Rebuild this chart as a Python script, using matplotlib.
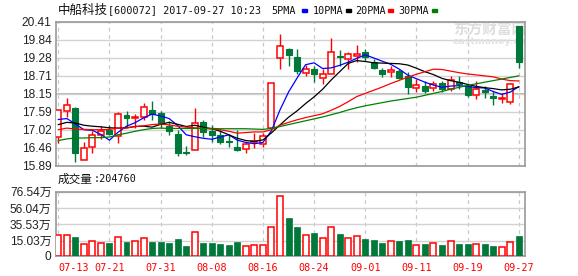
import matplotlib
matplotlib.use('Agg')
import matplotlib.pyplot as plt
import numpy as np
from matplotlib.patches import Rectangle

# ---------------- data ----------------
tick_idx = [0, 6, 12, 18, 24, 30, 36, 42, 48, 54]
tick_labels = ['07-13', '07-21', '07-31', '08-08', '08-16',
               '08-24', '09-01', '09-11', '09-19', '09-27']

opens = [16.79, 17.61, 17.71, 16.07, 16.47, 16.86, 17.02, 16.83, 17.48, 17.38,
         17.42, 17.63, 17.53, 17.15, 16.89, 16.31, 16.39, 17.27, 16.99, 16.86,
         16.66, 16.49, 16.41, 16.62, 16.57, 17.07, 19.26, 19.55, 19.29, 18.79,
         18.92, 18.63, 18.78, 19.32, 19.24, 19.34, 19.45, 19.16, 18.90, 18.82,
         18.87, 18.69, 18.32, 18.39, 18.34, 18.50, 18.31, 18.53, 18.39, 18.10,
         18.26, 18.08, 17.98, 17.90, 20.29]
highs = [17.65, 18.03, 17.74, 16.63, 16.97, 17.13, 17.17, 17.58, 17.62, 17.50,
         17.86, 17.92, 17.60, 17.28, 17.02, 16.52, 17.69, 17.32, 17.18, 17.02,
         16.89, 17.02, 16.60, 16.91, 16.91, 18.50, 20.03, 19.58, 19.55, 19.05,
         19.03, 18.92, 19.90, 19.53, 19.45, 19.69, 19.55, 19.24, 18.97, 19.03,
         18.92, 18.82, 18.60, 18.55, 18.55, 18.55, 18.69, 18.69, 18.45, 18.55,
         18.39, 18.23, 18.16, 18.48, 20.29]
lows = [16.60, 17.42, 16.02, 16.07, 16.28, 16.73, 16.86, 16.60, 17.09, 17.07,
        17.34, 17.34, 17.07, 16.84, 16.18, 16.23, 16.39, 16.79, 16.62, 16.58,
        16.49, 16.35, 16.28, 16.44, 16.49, 17.07, 18.94, 19.03, 18.76, 18.69,
        18.52, 18.45, 18.78, 19.01, 18.94, 19.13, 19.18, 18.92, 18.66, 18.66,
        18.60, 18.13, 18.20, 18.16, 18.23, 18.20, 18.23, 18.29, 18.06, 17.97,
        18.02, 17.81, 17.86, 17.83, 18.97]
closes = [17.65, 17.80, 16.28, 16.44, 16.85, 16.99, 16.90, 17.52, 17.38, 17.41,
          17.74, 17.50, 17.21, 16.99, 16.30, 16.29, 17.22, 16.94, 16.86, 16.62,
          16.64, 16.39, 16.58, 16.68, 16.81, 18.50, 19.64, 19.37, 18.87, 18.92,
          18.78, 18.76, 19.45, 19.30, 19.40, 19.41, 19.29, 18.97, 18.78, 18.90,
          18.64, 18.36, 18.42, 18.23, 18.45, 18.29, 18.57, 18.47, 18.10, 18.29,
          18.21, 18.03, 18.01, 18.45, 19.16]
# volume in 万 (10k shares)
volumes = [21.7, 21.7, 19.6, 10.4, 14.2, 12.1, 12.1, 19.2, 13.8, 14.2,
           18.0, 13.8, 13.8, 12.1, 17.1, 8.3, 25.5, 12.1, 12.1, 10.8,
           9.6, 13.8, 7.9, 9.2, 9.2, 31.8, 70.7, 43.5, 32.2, 21.7,
           24.7, 18.0, 31.8, 23.4, 18.0, 20.5, 17.1, 15.9, 12.1, 14.2,
           14.6, 15.9, 9.2, 10.8, 11.7, 9.6, 14.2, 10.8, 10.8, 10.8,
           10.8, 8.3, 6.7, 13.4, 20.48]
ma5 = [17.34, 17.37, 17.20, 17.02, 17.00, 16.87, 16.69, 16.94, 17.13, 17.24,
       17.39, 17.51, 17.45, 17.37, 17.15, 16.86, 16.80, 16.75, 16.72, 16.79,
       16.86, 16.69, 16.62, 16.58, 16.62, 16.99, 17.64, 18.20, 18.64, 19.06,
       19.12, 18.94, 18.96, 19.04, 19.14, 19.26, 19.37, 19.27, 19.17, 19.07,
       18.92, 18.73, 18.62, 18.51, 18.42, 18.35, 18.39, 18.40, 18.38, 18.34,
       18.33, 18.22, 18.13, 18.20, 18.37]
ma10 = [17.18, 17.25, 17.23, 17.16, 17.13, 17.11, 17.08, 17.07, 17.08, 17.12,
        17.13, 17.10, 17.19, 17.25, 17.19, 17.12, 17.16, 17.10, 17.05, 16.97,
        16.86, 16.75, 16.68, 16.65, 16.70, 16.92, 17.17, 17.41, 17.61, 17.84,
        18.05, 18.29, 18.58, 18.84, 19.10, 19.19, 19.16, 19.12, 19.11, 19.10,
        19.09, 19.05, 18.95, 18.84, 18.75, 18.63, 18.56, 18.51, 18.44, 18.38,
        18.34, 18.31, 18.27, 18.29, 18.36]
ma20 = [17.02, 17.07, 17.04, 17.03, 17.02, 17.02, 17.03, 17.07, 17.07, 17.12,
        17.14, 17.18, 17.20, 17.17, 17.13, 17.10, 17.08, 17.06, 17.04, 17.02,
        16.97, 16.91, 16.93, 16.95, 16.95, 17.02, 17.16, 17.25, 17.33, 17.40,
        17.46, 17.52, 17.63, 17.75, 17.90, 18.06, 18.16, 18.26, 18.36, 18.47,
        18.57, 18.67, 18.76, 18.84, 18.92, 18.91, 18.86, 18.81, 18.77, 18.74,
        18.71, 18.68, 18.61, 18.56, 18.55]
ma30 = [16.68, 16.73, 16.76, 16.76, 16.77, 16.77, 16.79, 16.86, 16.91, 16.97,
        17.02, 17.06, 17.07, 17.06, 17.06, 17.06, 17.06, 17.06, 17.06, 17.05,
        17.05, 17.05, 17.05, 17.04, 17.03, 17.06, 17.12, 17.18, 17.24, 17.30,
        17.36, 17.42, 17.49, 17.56, 17.64, 17.71, 17.77, 17.82, 17.87, 17.92,
        17.96, 18.00, 18.04, 18.10, 18.16, 18.22, 18.29, 18.35, 18.41, 18.46,
        18.51, 18.56, 18.61, 18.66, 18.71]
price_ticks = [15.89, 16.46, 17.02, 17.59, 18.15, 18.71, 19.28, 19.84, 20.41]
vol_ticks = [15.03, 35.53, 56.04, 76.54]
title_name = '中船科技'
title_code = '[600072] 2017-09-27 10:23'
vol_title = '成交量'
vol_now = ':204760'
ma_names = ['5PMA', '10PMA', '20PMA', '30PMA']

# ---------------- style ----------------
RED = '#ff0000'
GREEN = '#00783a'
MA_COLORS = ['#0000ff', '#000000', '#ff0000', '#008000']
FRAME = '#999999'
GRID = '#d2d2d2'
W, H = 578, 276
VOL_FLOOR = -4.2
MONO = 'DejaVu Sans Mono'
CJK = 'Noto Sans CJK SC'
LAB = ['Liberation Sans', 'Noto Sans CJK SC']

fig = plt.figure(figsize=(W / 100, H / 100), dpi=100)
L, R = 55.7, 525.3
ax = fig.add_axes([L / W, (H - 165.7) / H, (R - L) / W, (165.7 - 21.7) / H])
ax2 = fig.add_axes([L / W, (H - 256) / H, (R - L) / W, (256 - 191.7) / H])

x = np.arange(len(closes))
o = np.array(opens); c = np.array(closes)
hi = np.array(highs); lo = np.array(lows)
up = c >= o
bw = 0.70

for a in (ax, ax2):
    a.set_xlim(-0.305, 54.77)
    for sp in a.spines.values():
        sp.set_color(FRAME)
        sp.set_linewidth(1.2)
    a.set_xticks(tick_idx)
    a.xaxis.grid(True, color='#c8c8c8', linestyle=(0, (3, 3)), linewidth=0.9)
    a.yaxis.grid(True, color=GRID, linewidth=1.0)
    a.set_axisbelow(True)
    a.tick_params(length=0)

# ---- price panel ----
ax.set_ylim(15.89, 20.41)
ax.set_yticks(price_ticks)
ax.set_yticklabels([f'{v:.2f}' for v in price_ticks])
ax.tick_params(axis='y', pad=3, labelsize=8.6, labelcolor='#222222')
for t in ax.get_yticklabels():
    t.set_family(LAB)
ax.tick_params(axis='x', labelbottom=False)
ax.axhline(price_ticks[4], color='#a0a0a0', lw=1.1, zorder=0.5)

# watermark
ax.text(0.847, 0.942, '东方财富网', transform=ax.transAxes, fontsize=10.5,
        family=CJK, fontweight='bold', color='#dedede', va='center', ha='left',
        zorder=0.6, clip_on=True)
ax.text(0.845, 0.860, 'eastmoney.com', transform=ax.transAxes, fontsize=6.8,
        family='DejaVu Sans', fontweight='bold', color='#e2e2e2', va='center',
        ha='left', zorder=0.6, clip_on=True)

# wicks
ax.vlines(x[~up], lo[~up], hi[~up], color=GREEN, lw=1.0, zorder=2)
top_u = np.maximum(o, c)
bot_u = np.minimum(o, c)
ax.vlines(x[up], top_u[up], hi[up], color=RED, lw=1.0, zorder=2)
ax.vlines(x[up], lo[up], bot_u[up], color=RED, lw=1.0, zorder=2)
# bodies
ax.bar(x[~up], (o - c)[~up], bottom=c[~up], width=bw, color=GREEN,
       edgecolor=GREEN, linewidth=0.8, zorder=3)
ax.bar(x[up], (c - o)[up], bottom=o[up], width=bw, facecolor='white',
       edgecolor=RED, linewidth=1.1, zorder=3)

for ma, col in zip([ma5, ma10, ma20, ma30], MA_COLORS):
    ax.plot(x, ma, color=col, lw=0.9, zorder=4)

# ---- volume panel ----
v = np.array(volumes)
vup = up
ax2.set_ylim(VOL_FLOOR, vol_ticks[-1])
ax2.set_yticks([VOL_FLOOR] + vol_ticks)
ax2.set_yticklabels(['0'] + [f'{t:.2f}万' for t in vol_ticks])
ax2.tick_params(axis='y', pad=3, labelsize=8.6, labelcolor='#222222')
for t in ax2.get_yticklabels():
    t.set_family(LAB)
ax2.bar(x[~vup], (v - VOL_FLOOR)[~vup], bottom=VOL_FLOOR, width=bw,
        color=GREEN, edgecolor=GREEN, linewidth=0.5, zorder=3)
ax2.bar(x[vup], (v - VOL_FLOOR)[vup], bottom=VOL_FLOOR, width=bw,
        facecolor='white', edgecolor=RED, linewidth=1.1, zorder=3)
ax2.set_xticklabels(tick_labels)
ax2.tick_params(axis='x', pad=5, labelsize=7.3, labelcolor=RED)
for i, t in enumerate(ax2.get_xticklabels()):
    t.set_family(MONO)
    if i == 0:
        t.set_ha('left')


def px(xp, yp):
    return xp / W, 1 - yp / H


# ---- header texts ----
fig.text(*px(58, 10.5), title_name, family=CJK, fontsize=9, va='center',
         ha='left', color='#111111')
fig.text(*px(108, 10.5), title_code, family=MONO, fontsize=7.3, va='center',
         ha='left', color='#111111')
name_x = [271.7, 312.7, 355, 398]
rect_x = [302, 346, 388, 432]
for nm, nx, rx, col in zip(ma_names, name_x, rect_x, MA_COLORS):
    fig.text(*px(nx, 10.5), nm, family=MONO, fontsize=7.3, va='center',
             ha='left', color='#111111')
    fig.patches.append(Rectangle(px(rx, 12), 5 / W, 2.6 / H,
                                 transform=fig.transFigure, color=col))

fig.text(*px(58, 179), vol_title, family=CJK, fontsize=8.4, va='center',
         ha='left', color='#111111')
fig.text(*px(93.5, 179), vol_now, family=MONO, fontsize=7.3, va='center',
         ha='left', color='#111111')

fig.savefig('out.png', dpi=100)
